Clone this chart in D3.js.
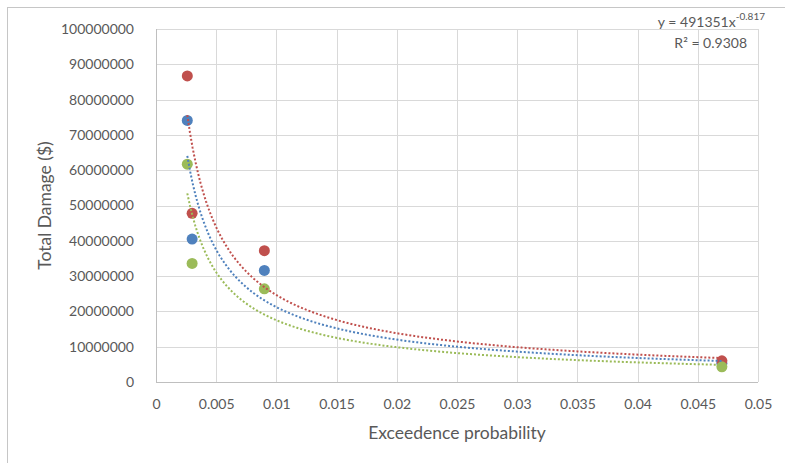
<!DOCTYPE html>
<html>
<head>
<meta charset="utf-8">
<script src="https://cdn.jsdelivr.net/npm/d3@7"></script>
<style>
  body { margin: 0; background: #fff; }
  text { font-family: Lato, "Open Sans", sans-serif; fill: #595959; }
</style>
</head>
<body>
<script>
// data
const probabilities = [0.0026, 0.003, 0.009, 0.047];
const blueDamage = [74100000, 40500000, 31600000, 5300000];
const redDamage = [86700000, 47800000, 37200000, 6000000];
const greenDamage = [61700000, 33600000, 26400000, 4300000];
const seriesColors = ["#4F81BD", "#C0504D", "#9BBB59"];
const xTicks = [0, 0.005, 0.01, 0.015, 0.02, 0.025, 0.03, 0.035, 0.04, 0.045, 0.05];
const yTicks = [0, 10000000, 20000000, 30000000, 40000000, 50000000, 60000000, 70000000, 80000000, 90000000, 100000000];

const series = [blueDamage, redDamage, greenDamage].map((vals, i) => ({
  color: seriesColors[i],
  points: vals.map((v, j) => ({x: probabilities[j], y: v}))
}));

const width = 785, height = 463,
      margin = {top: 29, right: 27, bottom: 81, left: 156};

const svg = d3.select("body").append("svg")
  .attr("width", width)
  .attr("height", height);

// outer chart frame (only top/left edges are inside the window)
svg.append("rect")
  .attr("x", 7.5).attr("y", 7.5)
  .attr("width", 900).attr("height", 600)
  .attr("fill", "none")
  .attr("stroke", "#C6C6C6");

const x = d3.scaleLinear().domain([0, 0.05]).range([margin.left, width - margin.right]);
const y = d3.scaleLinear().domain([0, 100000000]).range([height - margin.bottom, margin.top]);

// gridlines
svg.append("g").selectAll("line.h")
  .data(yTicks).enter().append("line")
  .attr("x1", x(0)).attr("x2", x(0.05))
  .attr("y1", d => Math.round(y(d)) + 0.5).attr("y2", d => Math.round(y(d)) + 0.5)
  .attr("stroke", "#D9D9D9");
svg.append("g").selectAll("line.v")
  .data(xTicks).enter().append("line")
  .attr("y1", y(0)).attr("y2", y(100000000))
  .attr("x1", d => Math.round(x(d)) + 0.5).attr("x2", d => Math.round(x(d)) + 0.5)
  .attr("stroke", "#D9D9D9");

// axes (labels only, lines are the gridlines)
const yAxis = svg.append("g")
  .attr("transform", "translate(" + (margin.left - 19) + ",0)")
  .call(d3.axisLeft(y).tickValues(yTicks).tickSize(0).tickFormat(d3.format("d")));
const xAxis = svg.append("g")
  .attr("transform", "translate(0," + (height - margin.bottom + 14) + ")")
  .call(d3.axisBottom(x).tickValues(xTicks).tickSize(0).tickFormat(d => String(+d.toFixed(3))));
[yAxis, xAxis].forEach(a => {
  a.select(".domain").remove();
  a.selectAll("text")
    .style("font-family", "Lato, 'Open Sans', sans-serif")
    .style("font-size", "14px")
    .attr("fill", "#595959");
});

// axis lines
svg.append("line")
  .attr("x1", x(0) + 0.5).attr("x2", x(0) + 0.5)
  .attr("y1", y(0)).attr("y2", y(100000000))
  .attr("stroke", "#BFBFBF");
svg.append("line")
  .attr("x1", x(0)).attr("x2", x(0.05))
  .attr("y1", Math.round(y(0)) + 0.5).attr("y2", Math.round(y(0)) + 0.5)
  .attr("stroke", "#BFBFBF");

// markers
series.forEach(s => {
  svg.append("g").selectAll("circle")
    .data(s.points).enter().append("circle")
    .attr("cx", d => x(d.x))
    .attr("cy", d => y(d.y))
    .attr("r", 5.5)
    .attr("fill", s.color);
});

// power trendlines (log-log least squares, like Excel)
const powerFit = pts => {
  const lx = pts.map(p => Math.log(p.x)), ly = pts.map(p => Math.log(p.y));
  const mx = d3.mean(lx), my = d3.mean(ly);
  const b = d3.sum(lx, (v, i) => (v - mx) * (ly[i] - my)) / d3.sum(lx, v => (v - mx) * (v - mx));
  const a = Math.exp(my - b * mx);
  return t => a * Math.pow(t, b);
};
const line = d3.line().x(d => x(d[0])).y(d => y(d[1]));
series.forEach(s => {
  const f = powerFit(s.points);
  const [lo, hi] = d3.extent(s.points, p => p.x);
  const samples = d3.range(0, 201).map(i => {
    const t = lo + (hi - lo) * i / 200;
    return [t, f(t)];
  });
  svg.append("path")
    .attr("d", line(samples))
    .attr("fill", "none")
    .attr("stroke", s.color)
    .attr("stroke-width", 2)
    .attr("stroke-dasharray", "2,2");
});

// trendline label
const eq = svg.append("text")
  .attr("x", 765).attr("y", 27)
  .attr("text-anchor", "end")
  .style("font-size", "14px");
eq.append("tspan").text("y = 491351x");
eq.append("tspan").attr("dy", -7).style("font-size", "10px").text("-0.817");
svg.append("text")
  .attr("x", 747).attr("y", 48)
  .attr("text-anchor", "end")
  .style("font-size", "14px")
  .text("R² = 0.9308");

// axis titles
svg.append("text")
  .attr("x", (x(0) + x(0.05)) / 2)
  .attr("y", 439)
  .attr("text-anchor", "middle")
  .style("font-size", "17.5px")
  .text("Exceedence probability");
svg.append("text")
  .attr("transform", "translate(51," + (y(0) + y(100000000)) / 2 + ") rotate(-90)")
  .attr("text-anchor", "middle")
  .style("font-size", "17.5px")
  .text("Total Damage ($)");
</script>
</body>
</html>
